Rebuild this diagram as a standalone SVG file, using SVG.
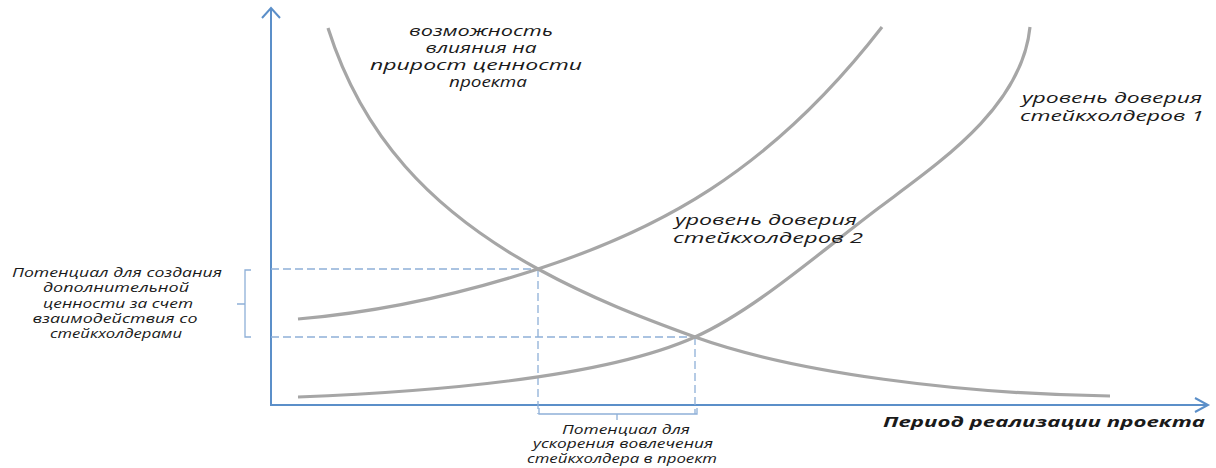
<svg xmlns="http://www.w3.org/2000/svg" width="1216" height="468" viewBox="0 0 1216 468">
<style>
.curve{fill:none;stroke:#a6a6a6;stroke-width:3.2}
.axis{fill:none;stroke:#5b8fc9;stroke-width:2}
.dash{fill:none;stroke:#8eb0d8;stroke-width:1.3;stroke-dasharray:8 4}
.br{fill:none;stroke:#8eb0d8;stroke-width:1.3}
text{font-family:"Open Sans","DejaVu Sans",sans-serif;font-style:italic;fill:#1a1a1a}
.s15{font-size:15px}
.s13{font-size:13px}
.lbl{font-size:15px;font-weight:bold}
</style>
<rect width="1216" height="468" fill="#ffffff"/>
<g id="connectors">
<path class="axis" d="M271,406 L271,8 M262,18 L271,8 L280,18"/>
<path class="axis" d="M271,405 L1208,405 M1195,398 L1208,405 L1195,412"/>
<path class="dash" d="M271,269 H538 M538,269 V414 M271,337 H695 M695,337 V414"/>
<path class="br" d="M251,270 H245 V337 H251 M245,304 H237"/>
<path class="br" d="M539,408 V414 H697 V408 M617,414 V420"/>
</g>
<g id="curve-influence">
<path class="curve" d="M328,28 C362,135 430,210 538,269 C593,299 640,317 695,337 C795,373 960,394 1110,396"/>
</g>
<g id="curve-trust-2">
<path class="curve" d="M298,319 C380,312 458,295 538,269 C653,231.5 767,175.5 882,27"/>
</g>
<g id="curve-trust-1">
<path class="curve" d="M298,397 C400,393 595,382 695,337 C755,310 820,252 880,207 C940,162 1022,107 1030,27"/>
</g>
<g id="label-influence" class="s15" text-anchor="middle">
<text x="481" y="36" textLength="144" lengthAdjust="spacingAndGlyphs">возможность</text>
<text x="481" y="53" textLength="111" lengthAdjust="spacingAndGlyphs">влияния на</text>
<text x="476" y="70" textLength="212" lengthAdjust="spacingAndGlyphs">прирост ценности</text>
<text x="488" y="87" textLength="78" lengthAdjust="spacingAndGlyphs">проекта</text>
</g>
<g id="label-trust-1" class="s15">
<text x="1022" y="103" textLength="180" lengthAdjust="spacingAndGlyphs">уровень доверия</text>
<text x="1020" y="121" textLength="184" lengthAdjust="spacingAndGlyphs">стейкхолдеров 1</text>
</g>
<g id="label-trust-2" class="s15">
<text x="675" y="225" textLength="182" lengthAdjust="spacingAndGlyphs">уровень доверия</text>
<text x="673" y="243" textLength="190" lengthAdjust="spacingAndGlyphs">стейкхолдеров 2</text>
</g>
<g id="label-value-potential" class="s13" text-anchor="middle">
<text x="117" y="277" textLength="210" lengthAdjust="spacingAndGlyphs">Потенциал для создания</text>
<text x="116" y="292" textLength="146" lengthAdjust="spacingAndGlyphs">дополнительной</text>
<text x="118" y="308" textLength="150" lengthAdjust="spacingAndGlyphs">ценности за счет</text>
<text x="115" y="323" textLength="165" lengthAdjust="spacingAndGlyphs">взаимодействия со</text>
<text x="116" y="338" textLength="132" lengthAdjust="spacingAndGlyphs">стейкхолдерами</text>
</g>
<g id="label-acceleration-potential" class="s13" text-anchor="middle">
<text x="626" y="434" textLength="128" lengthAdjust="spacingAndGlyphs">Потенциал для</text>
<text x="623" y="448" textLength="180" lengthAdjust="spacingAndGlyphs">ускорения вовлечения</text>
<text x="622" y="463" textLength="190" lengthAdjust="spacingAndGlyphs">стейкхолдера в проект</text>
</g>
<g id="axis-label" class="lbl">
<text x="883" y="427" textLength="322" lengthAdjust="spacingAndGlyphs">Период реализации проекта</text>
</g>
</svg>
